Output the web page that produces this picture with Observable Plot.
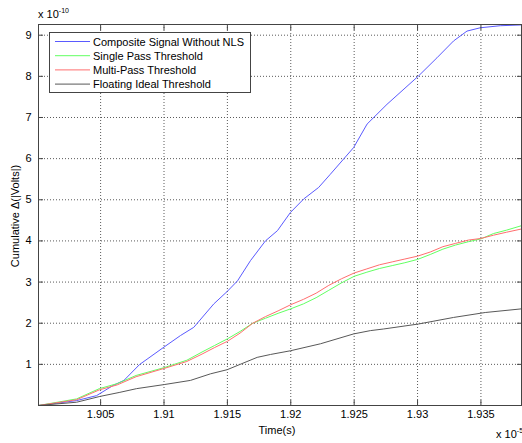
<!DOCTYPE html>
<html><head><meta charset="utf-8">
<script src="https://cdn.jsdelivr.net/npm/d3@7"></script>
<script src="https://cdn.jsdelivr.net/npm/@observablehq/plot@0.6"></script>
<style>
html,body{margin:0;padding:0;background:#fff;}
#chart{position:relative;width:522px;height:443px;}
</style></head><body><div id="chart"></div>
<script>
// ---- data (time in units of 1e-5 s, values in units of 1e-10) ----
const seriesNames = ["Composite Signal Without NLS", "Single Pass Threshold", "Multi-Pass Threshold", "Floating Ideal Threshold"];
const seriesColors = ["#5a5aff", "#62ff62", "#ff6e6e", "#585858"];

const timeBlue = [1.9001, 1.90153, 1.90311, 1.90468, 1.90600, 1.90684, 1.90807, 1.9100, 1.91130, 1.91235, 1.91393, 1.91498, 1.91580, 1.91682, 1.91800, 1.91895, 1.91997, 1.92102, 1.92220, 1.92312, 1.92496, 1.92602, 1.92759, 1.93008, 1.93153, 1.93284, 1.93390, 1.93494, 1.93652, 1.93823];
const valBlue  = [0, 0.056, 0.12, 0.24, 0.49, 0.61, 0.995, 1.42, 1.70, 1.90, 2.47, 2.77, 3.03, 3.52, 4.00, 4.25, 4.69, 5.02, 5.30, 5.62, 6.27, 6.84, 7.32, 8.01, 8.45, 8.86, 9.10, 9.18, 9.23, 9.25];

const timeRG   = [1.9001, 1.9031, 1.9049, 1.9063, 1.9078, 1.9100, 1.9118, 1.9130, 1.9140, 1.9150, 1.9160, 1.9170, 1.9180, 1.9190, 1.9200, 1.9210, 1.9220, 1.9230, 1.9240, 1.9250, 1.9260, 1.9270, 1.9280, 1.9290, 1.9300, 1.9310, 1.9320, 1.9330, 1.9340, 1.9350, 1.9360, 1.9370, 1.9382];
const valGreen = [0, 0.16, 0.41, 0.53, 0.73, 0.92, 1.10, 1.30, 1.46, 1.62, 1.80, 2.00, 2.12, 2.24, 2.35, 2.47, 2.62, 2.80, 2.98, 3.14, 3.24, 3.33, 3.40, 3.47, 3.55, 3.67, 3.80, 3.90, 3.98, 4.05, 4.18, 4.26, 4.37];
const valRed   = [0, 0.14, 0.38, 0.50, 0.70, 0.90, 1.07, 1.25, 1.41, 1.56, 1.76, 2.00, 2.16, 2.30, 2.45, 2.58, 2.73, 2.92, 3.08, 3.22, 3.32, 3.42, 3.49, 3.56, 3.63, 3.73, 3.86, 3.94, 4.02, 4.06, 4.14, 4.21, 4.29];

const timeBlack = [1.9001, 1.90311, 1.90494, 1.90652, 1.90784, 1.91004, 1.91209, 1.91367, 1.91498, 1.91735, 1.9184, 1.91997, 1.92234, 1.92496, 1.92628, 1.92733, 1.93006, 1.93284, 1.93534, 1.93823];
const valBlack  = [0, 0.08, 0.22, 0.32, 0.41, 0.51, 0.61, 0.77, 0.87, 1.17, 1.24, 1.33, 1.50, 1.74, 1.82, 1.86, 1.98, 2.14, 2.26, 2.35];

const xTicks = [1.905, 1.91, 1.915, 1.92, 1.925, 1.93, 1.935];
const yTicks = [1, 2, 3, 4, 5, 6, 7, 8, 9];
const xDomain = [1.9001, 1.9382];
const yDomain = [0, 9.26];

// ---- build table ----
const rows = [];
timeBlue.forEach((t, i) => rows.push({series: seriesNames[0], t, v: valBlue[i]}));
timeRG.forEach((t, i) => rows.push({series: seriesNames[1], t, v: valGreen[i]}));
timeRG.forEach((t, i) => rows.push({series: seriesNames[2], t, v: valRed[i]}));
timeBlack.forEach((t, i) => rows.push({series: seriesNames[3], t, v: valBlack[i]}));

const W = 522, H = 443, mL = 38, mR = 1, mT = 24, mB = 38;
const axisColor = "#444";
const gridColor = "#5a5a5a";
const fmtX = d => String(+d.toFixed(3));

const chart = Plot.plot({
  width: W, height: H,
  marginLeft: mL, marginRight: mR, marginTop: mT, marginBottom: mB,
  style: {fontFamily: "'Liberation Sans', Arial, sans-serif", fontSize: "11px", color: "#000", background: "#fff", overflow: "visible"},
  x: {domain: xDomain, label: null},
  y: {domain: yDomain, label: null},
  color: {domain: seriesNames, range: seriesColors},
  marks: [
    Plot.ruleX(xTicks, {x: d => d, stroke: gridColor, strokeWidth: 1, strokeDasharray: "1 2"}),
    Plot.ruleY(yTicks, {y: d => d, stroke: gridColor, strokeWidth: 1, strokeDasharray: "1 2"}),
    Plot.line(rows, {x: "t", y: "v", z: "series", stroke: "series", strokeWidth: 1}),
    Plot.frame({stroke: axisColor}),
    Plot.axisX(xTicks, {anchor: "bottom", tickSize: -5, tickPadding: 10, tickFormat: fmtX, stroke: axisColor, fill: "#000", label: null}),
    Plot.axisX(xTicks, {anchor: "top", tickSize: -5, tickFormat: () => "", stroke: axisColor, label: null}),
    Plot.axisY(yTicks, {anchor: "left", tickSize: -5, tickPadding: 12, stroke: axisColor, fill: "#000", label: null}),
    Plot.axisY(yTicks, {anchor: "right", tickSize: -5, tickFormat: () => "", stroke: axisColor, label: null})
  ]
});
document.getElementById("chart").appendChild(chart);

// ---- annotations: axis titles, exponents, legend ----
const svg = d3.select(chart);
const ff = "'Liberation Sans', Arial, sans-serif";

svg.append("text").attr("x", 277).attr("y", 434).attr("text-anchor", "middle")
  .attr("font-family", ff).attr("font-size", 11).attr("fill", "#000").text("Time(s)");

svg.append("text").attr("transform", "translate(19,216) rotate(-90)").attr("text-anchor", "middle")
  .attr("font-family", ff).attr("font-size", 11).attr("fill", "#000").text("Cumulative Δ(|Volts|)");

function expo(x, y, exp) {
  const t = svg.append("text").attr("x", x).attr("y", y).attr("text-anchor", "start")
    .attr("font-family", ff).attr("font-size", 11).attr("fill", "#000");
  t.append("tspan").text("x 10");
  t.append("tspan").attr("dy", -5).attr("font-size", 7).text(exp);
}
expo(38, 18, "-10");
expo(496, 437.5, "-5");

const lg = svg.append("g");
lg.append("rect").attr("x", 49.5).attr("y", 32.5).attr("width", 201).attr("height", 60)
  .attr("fill", "#fff").attr("stroke", axisColor);
seriesNames.forEach((name, i) => {
  const yy = 41.5 + i * 14.2;
  lg.append("line").attr("x1", 55).attr("x2", 90).attr("y1", yy).attr("y2", yy)
    .attr("stroke", seriesColors[i]).attr("stroke-width", 1);
  lg.append("text").attr("x", 93).attr("y", yy + 4).attr("text-anchor", "start")
    .attr("font-family", ff).attr("font-size", 11).attr("fill", "#000").text(name);
});
</script>
</body></html>
